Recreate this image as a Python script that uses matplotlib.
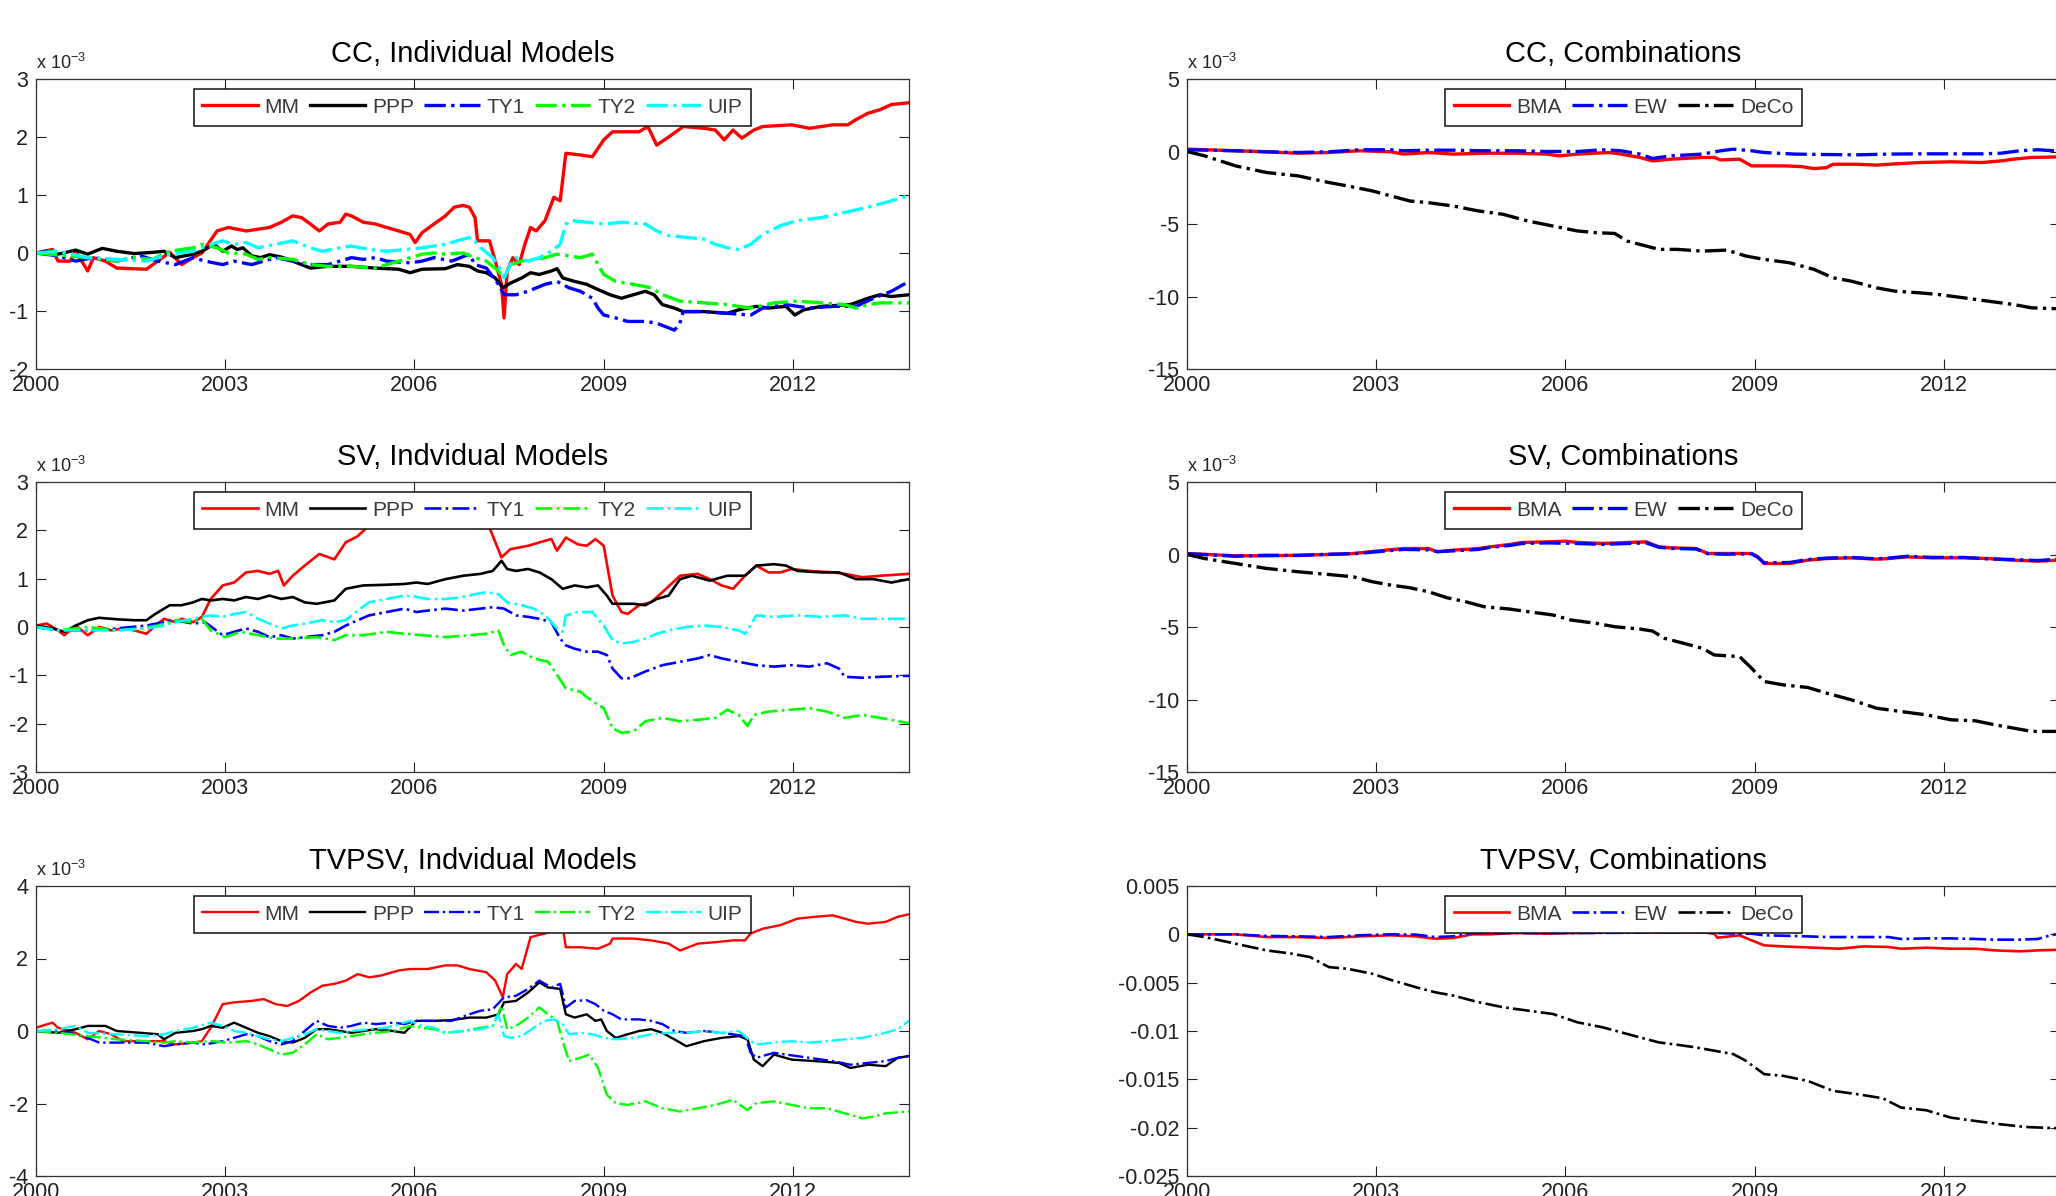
import numpy as np
import matplotlib
matplotlib.use('Agg')
import matplotlib.pyplot as plt
from matplotlib import font_manager
from matplotlib.ticker import FuncFormatter

plt.rcParams['font.family'] = ['Liberation Sans', 'DejaVu Sans']
plt.rcParams['mathtext.default'] = 'regular'

# MATLAB tick labels look condensed; use the narrow face if it is there
try:
    font_manager.findfont('Liberation Sans Narrow', fallback_to_default=False)
    tick_font, tick_size = 'Liberation Sans Narrow', 18
except ValueError:
    tick_font, tick_size = 'Liberation Sans', 15.5

# all series: (year, value in units of 1e-3)
cc_mm = [(2000, 0), (2000.26, 0.06), (2000.35, -0.14), (2000.54, -0.14), (2000.63, 0.03), (2000.82, -0.31),
         (2000.91, -0.08), (2001.1, -0.14), (2001.28, -0.26), (2001.75, -0.28), (2001.93, -0.14), (2002.12, 0.01),
         (2002.31, -0.2), (2002.49, -0.08), (2002.63, 0.0), (2002.87, 0.38), (2003.05, 0.44), (2003.33, 0.38),
         (2003.52, 0.41), (2003.7, 0.44), (2003.89, 0.53), (2004.07, 0.64), (2004.21, 0.61), (2004.35, 0.5),
         (2004.49, 0.38), (2004.63, 0.5), (2004.82, 0.53), (2004.91, 0.67), (2005.0, 0.64), (2005.19, 0.53),
         (2005.38, 0.5), (2005.56, 0.44), (2005.75, 0.38), (2005.93, 0.32), (2006.01, 0.18), (2006.12, 0.35),
         (2006.31, 0.5), (2006.49, 0.64), (2006.63, 0.79), (2006.77, 0.82), (2006.87, 0.79), (2006.96, 0.61),
         (2007.0, 0.21), (2007.19, 0.21), (2007.28, -0.14), (2007.38, -0.54), (2007.42, -1.12), (2007.47, -0.31),
         (2007.56, -0.08), (2007.66, -0.2), (2007.75, 0.15), (2007.84, 0.44), (2007.93, 0.38), (2008.07, 0.56),
         (2008.21, 0.96), (2008.31, 0.9), (2008.4, 1.72), (2008.63, 1.69), (2008.82, 1.66), (2009.0, 1.95),
         (2009.14, 2.09), (2009.56, 2.09), (2009.7, 2.18), (2009.84, 1.86), (2010.03, 2.0), (2010.26, 2.18),
         (2010.59, 2.15), (2010.77, 2.12), (2010.91, 1.95), (2011.05, 2.12), (2011.19, 1.98), (2011.38, 2.12),
         (2011.52, 2.18), (2011.98, 2.21), (2012.26, 2.15), (2012.63, 2.21), (2012.87, 2.21), (2013.0, 2.3),
         (2013.19, 2.41), (2013.38, 2.47), (2013.56, 2.56), (2013.84, 2.59)]
cc_ppp = [(2000, 0), (2000.17, 0.03), (2000.35, -0.02), (2000.63, 0.05), (2000.82, -0.02), (2001.05, 0.08),
          (2001.28, 0.03), (2001.56, -0.01), (2001.84, 0.01), (2002.03, 0.03), (2002.21, -0.08), (2002.49, -0.02),
          (2002.63, 0.03), (2002.82, 0.15), (2002.96, 0.03), (2003.1, 0.12), (2003.19, 0.06), (2003.28, 0.09),
          (2003.42, -0.05), (2003.56, -0.08), (2003.7, -0.03), (2003.89, -0.07), (2004.07, -0.14), (2004.35, -0.26),
          (2004.63, -0.23), (2005.0, -0.23), (2005.38, -0.26), (2005.75, -0.28), (2005.93, -0.34), (2006.12, -0.28),
          (2006.49, -0.27), (2006.68, -0.2), (2006.87, -0.23), (2007.0, -0.31), (2007.14, -0.34), (2007.28, -0.43),
          (2007.4, -0.6), (2007.52, -0.52), (2007.7, -0.43), (2007.84, -0.34), (2007.98, -0.37), (2008.17, -0.31),
          (2008.26, -0.27), (2008.35, -0.43), (2008.54, -0.49), (2008.73, -0.54), (2008.91, -0.63), (2009.1, -0.72),
          (2009.28, -0.78), (2009.47, -0.72), (2009.66, -0.66), (2009.8, -0.72), (2009.93, -0.89), (2010.12, -0.95),
          (2010.26, -1.01), (2010.59, -1.01), (2010.96, -1.04), (2011.14, -0.98), (2011.42, -0.92), (2011.61, -0.95),
          (2011.89, -0.92), (2012.03, -1.07), (2012.17, -0.98), (2012.45, -0.92), (2012.91, -0.89), (2013.19, -0.78),
          (2013.38, -0.72), (2013.56, -0.75), (2013.84, -0.72)]
cc_ty1 = [(2000, 0), (2000.35, -0.05), (2000.63, -0.14), (2000.91, -0.08), (2001.28, -0.14), (2001.66, -0.05),
          (2001.93, -0.14), (2002.21, -0.2), (2002.49, -0.08), (2002.68, -0.14), (2002.96, -0.2), (2003.14, -0.14),
          (2003.42, -0.2), (2003.61, -0.14), (2003.8, -0.08), (2004.07, -0.14), (2004.35, -0.2), (2004.63, -0.2),
          (2004.82, -0.14), (2005.0, -0.08), (2005.19, -0.11), (2005.38, -0.08), (2005.56, -0.14), (2005.93, -0.17),
          (2006.12, -0.14), (2006.31, -0.08), (2006.59, -0.14), (2006.87, -0.02), (2006.96, -0.2), (2007.14, -0.26),
          (2007.33, -0.54), (2007.42, -0.72), (2007.61, -0.72), (2007.8, -0.66), (2008.07, -0.54), (2008.26, -0.49),
          (2008.45, -0.6), (2008.63, -0.66), (2008.82, -0.78), (2008.91, -0.95), (2009.0, -1.07), (2009.19, -1.12),
          (2009.38, -1.18), (2009.66, -1.18), (2009.84, -1.21), (2010.12, -1.33), (2010.2, -1.24), (2010.26, -1.01),
          (2010.59, -1.01), (2010.96, -1.04), (2011.33, -1.07), (2011.52, -0.95), (2011.89, -0.89), (2012.26, -0.95),
          (2012.63, -0.92), (2013.0, -0.92), (2013.28, -0.78), (2013.56, -0.66), (2013.84, -0.49)]
cc_ty2 = [(2000, 0), (2000.3, -0.03), (2000.82, -0.08), (2001.28, -0.14), (2001.56, -0.08), (2001.84, -0.11),
          (2002.12, 0.03), (2002.49, 0.09), (2002.63, 0.15), (2002.87, 0.09), (2003.05, 0.0), (2003.33, -0.02),
          (2003.52, -0.11), (2003.7, -0.08), (2004.07, -0.11), (2004.35, -0.2), (2004.63, -0.23), (2005.0, -0.23),
          (2005.38, -0.26), (2005.56, -0.2), (2005.75, -0.14), (2005.93, -0.08), (2006.12, -0.02), (2006.31, 0.0),
          (2006.49, -0.02), (2006.77, 0.0), (2006.96, -0.08), (2007.14, -0.14), (2007.33, -0.31), (2007.42, -0.43),
          (2007.52, -0.2), (2007.7, -0.14), (2007.89, -0.11), (2008.07, -0.08), (2008.26, -0.02), (2008.45, -0.05),
          (2008.63, -0.08), (2008.82, -0.02), (2008.91, -0.2), (2009.0, -0.37), (2009.19, -0.49), (2009.47, -0.54),
          (2009.75, -0.6), (2009.93, -0.72), (2010.21, -0.83), (2010.59, -0.86), (2010.96, -0.89), (2011.33, -0.95),
          (2011.7, -0.86), (2012.07, -0.83), (2012.45, -0.86), (2012.82, -0.89), (2013.0, -0.95), (2013.19, -0.89),
          (2013.38, -0.86), (2013.84, -0.86)]
cc_uip = [(2000, 0), (2000.35, 0.03), (2000.82, -0.08), (2001.28, -0.11), (2001.75, -0.14), (2002.12, -0.02),
          (2002.49, 0.03), (2002.77, 0.15), (2002.96, 0.21), (2003.14, 0.15), (2003.33, 0.18), (2003.52, 0.09),
          (2003.8, 0.15), (2004.07, 0.21), (2004.35, 0.09), (2004.54, 0.03), (2004.82, 0.09), (2005.0, 0.12),
          (2005.28, 0.06), (2005.56, 0.03), (2005.84, 0.06), (2006.12, 0.09), (2006.49, 0.15), (2006.77, 0.24),
          (2006.91, 0.27), (2007.05, 0.09), (2007.24, -0.08), (2007.38, -0.31), (2007.42, -0.43), (2007.52, -0.2),
          (2007.61, -0.08), (2007.8, -0.14), (2007.98, -0.08), (2008.17, 0.03), (2008.31, 0.15), (2008.4, 0.5),
          (2008.49, 0.56), (2008.73, 0.53), (2009.0, 0.5), (2009.28, 0.53), (2009.66, 0.5), (2009.84, 0.38),
          (2010.03, 0.3), (2010.31, 0.27), (2010.59, 0.24), (2010.77, 0.15), (2010.96, 0.09), (2011.14, 0.06),
          (2011.33, 0.15), (2011.52, 0.32), (2011.8, 0.47), (2012.07, 0.56), (2012.45, 0.61), (2012.82, 0.7),
          (2013.19, 0.79), (2013.56, 0.9), (2013.84, 0.99)]

sv_mm = [(2000, 0.03), (2000.17, 0.07), (2000.35, -0.07), (2000.45, -0.17), (2000.63, 0.03), (2000.82, -0.17),
         (2001.0, 0.0), (2001.19, -0.07), (2001.38, -0.03), (2001.56, -0.07), (2001.75, -0.14), (2001.89, 0.03),
         (2002.03, 0.17), (2002.21, 0.1), (2002.31, 0.17), (2002.49, 0.1), (2002.63, 0.21), (2002.77, 0.58),
         (2002.96, 0.86), (2003.14, 0.92), (2003.33, 1.13), (2003.52, 1.16), (2003.7, 1.1), (2003.84, 1.16),
         (2003.93, 0.86), (2004.07, 1.06), (2004.26, 1.27), (2004.49, 1.51), (2004.73, 1.4), (2004.91, 1.75),
         (2005.1, 1.88), (2005.24, 2.05), (2005.5, 2.25), (2005.9, 2.35), (2006.3, 2.4), (2006.7, 2.3),
         (2006.96, 2.05), (2007.19, 2.05), (2007.38, 1.44), (2007.52, 1.61), (2007.8, 1.68), (2007.98, 1.75),
         (2008.17, 1.82), (2008.26, 1.58), (2008.4, 1.85), (2008.59, 1.71), (2008.73, 1.68), (2008.87, 1.82),
         (2009.0, 1.68), (2009.14, 0.65), (2009.28, 0.31), (2009.38, 0.27), (2009.56, 0.45), (2009.75, 0.51),
         (2009.93, 0.72), (2010.21, 1.06), (2010.49, 1.1), (2010.68, 0.99), (2010.87, 0.86), (2011.05, 0.79),
         (2011.24, 1.06), (2011.42, 1.27), (2011.61, 1.13), (2011.8, 1.13), (2011.98, 1.2), (2012.26, 1.16),
         (2012.63, 1.13), (2012.82, 1.1), (2013.1, 1.03), (2013.38, 1.06), (2013.84, 1.1)]
sv_ppp = [(2000, 0.03), (2000.26, -0.03), (2000.45, -0.1), (2000.63, 0.03), (2000.82, 0.14), (2001.0, 0.19),
          (2001.28, 0.16), (2001.56, 0.14), (2001.75, 0.14), (2001.89, 0.27), (2002.12, 0.45), (2002.31, 0.45),
          (2002.49, 0.51), (2002.63, 0.58), (2002.77, 0.55), (2002.96, 0.58), (2003.14, 0.55), (2003.33, 0.62),
          (2003.52, 0.58), (2003.7, 0.65), (2003.89, 0.58), (2004.07, 0.62), (2004.26, 0.51), (2004.45, 0.48),
          (2004.73, 0.55), (2004.91, 0.79), (2005.19, 0.86), (2005.47, 0.87), (2005.84, 0.89), (2006.03, 0.92),
          (2006.21, 0.89), (2006.49, 0.99), (2006.77, 1.06), (2007.05, 1.1), (2007.24, 1.16), (2007.38, 1.37),
          (2007.47, 1.2), (2007.61, 1.16), (2007.8, 1.2), (2007.98, 1.13), (2008.17, 0.99), (2008.35, 0.79),
          (2008.54, 0.86), (2008.73, 0.82), (2008.91, 0.86), (2009.05, 0.65), (2009.14, 0.48), (2009.47, 0.48),
          (2009.66, 0.45), (2009.84, 0.58), (2010.03, 0.65), (2010.21, 0.99), (2010.4, 1.06), (2010.68, 0.96),
          (2010.96, 1.06), (2011.24, 1.06), (2011.42, 1.27), (2011.7, 1.3), (2011.89, 1.27), (2012.07, 1.16),
          (2012.45, 1.13), (2012.73, 1.13), (2013.0, 0.99), (2013.28, 0.99), (2013.56, 0.92), (2013.84, 0.99)]
sv_ty1 = [(2000, 0), (2000.35, -0.07), (2000.82, -0.07), (2001.28, -0.03), (2001.75, 0.03), (2002.03, 0.1),
          (2002.21, 0.14), (2002.49, 0.07), (2002.68, 0.1), (2002.96, -0.17), (2003.14, -0.1), (2003.33, -0.03),
          (2003.52, -0.1), (2003.7, -0.21), (2003.89, -0.17), (2004.07, -0.24), (2004.26, -0.21), (2004.54, -0.17),
          (2004.73, -0.1), (2004.91, 0.03), (2005.1, 0.14), (2005.28, 0.24), (2005.56, 0.31), (2005.84, 0.38),
          (2006.03, 0.31), (2006.21, 0.34), (2006.49, 0.38), (2006.77, 0.34), (2007.05, 0.38), (2007.24, 0.41),
          (2007.42, 0.38), (2007.61, 0.24), (2007.8, 0.21), (2007.98, 0.17), (2008.17, 0.1), (2008.31, -0.24),
          (2008.4, -0.38), (2008.54, -0.45), (2008.73, -0.51), (2008.91, -0.51), (2009.05, -0.58), (2009.14, -0.86),
          (2009.28, -1.06), (2009.42, -1.06), (2009.66, -0.92), (2009.93, -0.79), (2010.21, -0.72), (2010.49, -0.65),
          (2010.68, -0.58), (2010.87, -0.65), (2011.14, -0.72), (2011.42, -0.79), (2011.7, -0.82), (2011.98, -0.79),
          (2012.26, -0.82), (2012.54, -0.75), (2012.73, -0.86), (2012.82, -1.03), (2013.1, -1.05), (2013.38, -1.03),
          (2013.84, -1.01)]
sv_ty2 = [(2000, 0), (2000.35, -0.07), (2000.82, 0.0), (2001.28, -0.07), (2001.66, -0.03), (2001.93, 0.03),
          (2002.21, 0.14), (2002.49, 0.1), (2002.63, 0.17), (2002.77, -0.07), (2003.0, -0.21), (2003.24, -0.1),
          (2003.52, -0.17), (2003.8, -0.24), (2004.07, -0.24), (2004.45, -0.21), (2004.73, -0.27), (2004.91, -0.17),
          (2005.19, -0.17), (2005.56, -0.1), (2005.84, -0.14), (2006.12, -0.17), (2006.49, -0.21), (2006.87, -0.17),
          (2007.14, -0.14), (2007.33, -0.07), (2007.42, -0.38), (2007.52, -0.58), (2007.7, -0.51), (2007.89, -0.65),
          (2008.12, -0.72), (2008.26, -0.99), (2008.4, -1.27), (2008.63, -1.34), (2008.82, -1.54), (2009.0, -1.68),
          (2009.14, -2.09), (2009.28, -2.19), (2009.47, -2.16), (2009.66, -1.95), (2009.93, -1.88), (2010.21, -1.95),
          (2010.49, -1.92), (2010.77, -1.88), (2010.96, -1.71), (2011.14, -1.82), (2011.28, -2.05), (2011.38, -1.82),
          (2011.61, -1.75), (2011.98, -1.71), (2012.26, -1.68), (2012.54, -1.75), (2012.82, -1.88), (2013.1, -1.82),
          (2013.38, -1.88), (2013.84, -1.99)]
sv_uip = [(2000, 0), (2000.35, -0.07), (2000.82, -0.07), (2001.28, -0.07), (2001.75, -0.03), (2002.03, 0.03),
          (2002.21, 0.1), (2002.49, 0.17), (2002.63, 0.21), (2002.77, 0.24), (2002.96, 0.21), (2003.14, 0.27),
          (2003.33, 0.31), (2003.52, 0.17), (2003.7, 0.07), (2003.89, -0.03), (2004.07, 0.03), (2004.26, 0.07),
          (2004.54, 0.14), (2004.73, 0.1), (2004.91, 0.14), (2005.1, 0.34), (2005.28, 0.51), (2005.56, 0.58),
          (2005.84, 0.65), (2006.03, 0.62), (2006.21, 0.58), (2006.49, 0.58), (2006.77, 0.62), (2006.96, 0.68),
          (2007.14, 0.72), (2007.33, 0.68), (2007.47, 0.51), (2007.7, 0.45), (2007.89, 0.38), (2008.07, 0.24),
          (2008.26, -0.03), (2008.35, -0.1), (2008.4, 0.24), (2008.59, 0.31), (2008.82, 0.31), (2009.0, 0.03),
          (2009.14, -0.27), (2009.28, -0.34), (2009.47, -0.31), (2009.66, -0.24), (2009.84, -0.14), (2010.03, -0.07),
          (2010.31, 0.0), (2010.59, 0.03), (2010.87, 0.0), (2011.14, -0.07), (2011.24, -0.14), (2011.42, 0.24),
          (2011.7, 0.21), (2012.07, 0.24), (2012.45, 0.21), (2012.82, 0.24), (2013.1, 0.17), (2013.38, 0.17),
          (2013.84, 0.17)]

tv_mm = [(2000, 0.09), (2000.26, 0.23), (2000.35, 0.09), (2000.63, -0.05), (2000.82, -0.23), (2001.0, 0.0),
         (2001.19, -0.09), (2001.38, -0.28), (2001.75, -0.28), (2002.03, -0.28), (2002.21, -0.37), (2002.49, -0.32),
         (2002.63, -0.28), (2002.77, 0.09), (2002.96, 0.74), (2003.14, 0.79), (2003.42, 0.83), (2003.61, 0.88),
         (2003.8, 0.74), (2003.98, 0.69), (2004.17, 0.83), (2004.35, 1.06), (2004.54, 1.25), (2004.73, 1.3),
         (2004.91, 1.39), (2005.1, 1.57), (2005.28, 1.48), (2005.47, 1.53), (2005.75, 1.67), (2005.93, 1.71),
         (2006.21, 1.71), (2006.49, 1.81), (2006.68, 1.81), (2006.87, 1.71), (2007.14, 1.62), (2007.28, 1.39),
         (2007.4, 0.93), (2007.47, 1.57), (2007.61, 1.85), (2007.7, 1.71), (2007.84, 2.59), (2008.07, 2.69),
         (2008.21, 2.78), (2008.35, 2.87), (2008.4, 2.31), (2008.63, 2.31), (2008.91, 2.27), (2009.1, 2.41),
         (2009.14, 2.55), (2009.47, 2.55), (2009.75, 2.5), (2010.03, 2.41), (2010.21, 2.22), (2010.49, 2.41),
         (2010.77, 2.45), (2011.05, 2.5), (2011.24, 2.5), (2011.33, 2.69), (2011.52, 2.82), (2011.8, 2.92),
         (2012.07, 3.1), (2012.35, 3.15), (2012.63, 3.19), (2012.82, 3.1), (2013.0, 3.01), (2013.19, 2.96),
         (2013.47, 3.01), (2013.66, 3.15), (2013.84, 3.22)]
tv_ppp = [(2000, 0.0), (2000.35, -0.05), (2000.63, 0.05), (2000.82, 0.14), (2001.1, 0.14), (2001.28, 0.0),
          (2001.66, -0.05), (2001.93, -0.09), (2002.03, -0.23), (2002.21, -0.05), (2002.49, 0.0), (2002.63, 0.05),
          (2002.77, 0.14), (2002.96, 0.09), (2003.14, 0.23), (2003.33, 0.09), (2003.52, -0.05), (2003.7, -0.14),
          (2003.89, -0.28), (2004.07, -0.32), (2004.26, -0.19), (2004.45, 0.05), (2004.63, 0.05), (2004.82, 0.0),
          (2005.0, -0.05), (2005.38, 0.05), (2005.66, 0.0), (2005.84, -0.05), (2006.03, 0.28), (2006.31, 0.28),
          (2006.59, 0.3), (2006.87, 0.37), (2007.14, 0.37), (2007.33, 0.46), (2007.42, 0.79), (2007.61, 0.83),
          (2007.8, 1.06), (2007.98, 1.34), (2008.12, 1.2), (2008.31, 1.16), (2008.4, 0.46), (2008.54, 0.37),
          (2008.73, 0.46), (2008.87, 0.28), (2008.96, 0.32), (2009.05, 0.0), (2009.19, -0.19), (2009.38, -0.09),
          (2009.56, 0.0), (2009.75, 0.05), (2009.93, -0.05), (2010.12, -0.23), (2010.31, -0.42), (2010.59, -0.28),
          (2010.87, -0.19), (2011.14, -0.14), (2011.28, -0.23), (2011.38, -0.79), (2011.52, -0.97), (2011.7, -0.65),
          (2011.98, -0.79), (2012.35, -0.83), (2012.73, -0.88), (2012.91, -1.02), (2013.19, -0.93), (2013.47, -0.97),
          (2013.66, -0.74), (2013.84, -0.69)]
tv_ty1 = [(2000, 0.0), (2000.35, 0.0), (2000.63, -0.09), (2000.82, -0.19), (2001.0, -0.32), (2001.28, -0.32),
          (2001.75, -0.32), (2002.03, -0.42), (2002.21, -0.37), (2002.49, -0.32), (2002.68, -0.37), (2002.96, -0.28),
          (2003.14, -0.19), (2003.33, -0.09), (2003.52, -0.14), (2003.7, -0.28), (2003.89, -0.37), (2004.07, -0.28),
          (2004.26, 0.0), (2004.45, 0.28), (2004.63, 0.14), (2004.82, 0.09), (2005.0, 0.14), (2005.19, 0.23),
          (2005.38, 0.19), (2005.66, 0.23), (2005.84, 0.19), (2006.03, 0.28), (2006.31, 0.28), (2006.59, 0.28),
          (2006.87, 0.46), (2007.05, 0.56), (2007.24, 0.6), (2007.42, 0.93), (2007.61, 0.97), (2007.8, 1.16),
          (2007.98, 1.39), (2008.17, 1.2), (2008.31, 1.3), (2008.4, 0.65), (2008.54, 0.83), (2008.73, 0.85),
          (2008.87, 0.74), (2009.0, 0.56), (2009.14, 0.46), (2009.28, 0.32), (2009.56, 0.32), (2009.75, 0.28),
          (2009.93, 0.19), (2010.12, 0.0), (2010.31, -0.05), (2010.59, 0.0), (2010.87, -0.05), (2011.24, -0.14),
          (2011.33, -0.6), (2011.42, -0.74), (2011.7, -0.6), (2011.89, -0.65), (2012.26, -0.74), (2012.63, -0.83),
          (2012.91, -0.93), (2013.19, -0.88), (2013.47, -0.83), (2013.66, -0.74), (2013.84, -0.69)]
tv_ty2 = [(2000, 0.0), (2000.35, -0.05), (2000.82, -0.14), (2001.28, -0.23), (2001.75, -0.28), (2002.03, -0.32),
          (2002.21, -0.28), (2002.49, -0.32), (2002.77, -0.28), (2003.05, -0.32), (2003.33, -0.28), (2003.52, -0.37),
          (2003.7, -0.51), (2003.89, -0.65), (2004.07, -0.6), (2004.26, -0.37), (2004.45, -0.09), (2004.63, -0.23),
          (2004.82, -0.19), (2005.0, -0.14), (2005.19, -0.09), (2005.38, -0.05), (2005.66, 0.0), (2005.93, 0.14),
          (2006.12, 0.09), (2006.31, 0.05), (2006.49, -0.05), (2006.77, 0.0), (2007.05, 0.09), (2007.24, 0.14),
          (2007.38, 0.69), (2007.47, 0.05), (2007.61, 0.14), (2007.8, 0.37), (2007.98, 0.65), (2008.12, 0.46),
          (2008.26, 0.28), (2008.35, -0.28), (2008.45, -0.83), (2008.63, -0.74), (2008.77, -0.65), (2008.91, -1.02),
          (2009.05, -1.76), (2009.19, -1.99), (2009.38, -2.04), (2009.66, -1.94), (2009.93, -2.13), (2010.21, -2.22),
          (2010.49, -2.13), (2010.77, -2.04), (2011.05, -1.9), (2011.28, -2.18), (2011.42, -1.99), (2011.7, -1.94),
          (2011.98, -2.04), (2012.26, -2.13), (2012.54, -2.13), (2012.82, -2.27), (2013.1, -2.41), (2013.28, -2.36),
          (2013.47, -2.27), (2013.84, -2.22)]
tv_uip = [(2000, 0.0), (2000.35, 0.05), (2000.63, 0.14), (2000.82, -0.05), (2001.28, -0.09), (2001.75, -0.14),
          (2002.03, -0.09), (2002.21, 0.0), (2002.49, 0.09), (2002.77, 0.23), (2002.96, 0.14), (2003.14, 0.0),
          (2003.33, -0.05), (2003.52, -0.14), (2003.7, -0.23), (2003.89, -0.28), (2004.07, -0.19), (2004.26, -0.09),
          (2004.45, 0.05), (2004.63, 0.0), (2004.82, -0.05), (2005.0, 0.0), (2005.28, 0.05), (2005.56, 0.09),
          (2005.93, 0.28), (2006.12, 0.14), (2006.31, 0.09), (2006.49, -0.05), (2006.77, 0.0), (2007.05, 0.05),
          (2007.24, 0.14), (2007.33, 0.46), (2007.42, -0.14), (2007.52, -0.19), (2007.7, -0.14), (2007.89, 0.09),
          (2008.07, 0.28), (2008.21, 0.32), (2008.35, 0.19), (2008.45, -0.09), (2008.63, -0.05), (2008.82, -0.09),
          (2009.0, -0.19), (2009.19, -0.23), (2009.47, -0.19), (2009.75, -0.09), (2010.03, -0.05), (2010.31, -0.05),
          (2010.59, 0.0), (2010.87, -0.05), (2011.14, 0.0), (2011.33, -0.28), (2011.42, -0.37), (2011.7, -0.32),
          (2011.98, -0.28), (2012.26, -0.32), (2012.54, -0.28), (2012.82, -0.23), (2013.1, -0.19), (2013.38, -0.09),
          (2013.66, 0.05), (2013.84, 0.28)]

cc_bma = [(2000, 0.16), (2000.28, 0.12), (2000.77, 0.05), (2001.26, -0.02), (2001.76, -0.12), (2002.25, -0.07),
          (2002.74, 0.05), (2003.23, -0.02), (2003.43, -0.18), (2003.83, -0.07), (2004.22, -0.18), (2004.71, -0.12),
          (2005.21, -0.12), (2005.7, -0.18), (2005.9, -0.3), (2006.19, -0.18), (2006.69, -0.07), (2006.88, -0.18),
          (2007.18, -0.41), (2007.38, -0.65), (2007.67, -0.53), (2008.17, -0.41), (2008.36, -0.41), (2008.46, -0.58),
          (2008.76, -0.53), (2008.95, -0.99), (2009.15, -0.99), (2009.45, -0.99), (2009.74, -1.04), (2009.94, -1.18),
          (2010.14, -1.11), (2010.24, -0.88), (2010.63, -0.88), (2010.93, -0.94), (2011.12, -0.88), (2011.62, -0.76),
          (2012.11, -0.71), (2012.6, -0.76), (2012.9, -0.65), (2013.1, -0.53), (2013.39, -0.41), (2013.84, -0.37)]
cc_ew = [(2000, 0.12), (2000.77, 0.05), (2001.26, -0.02), (2001.76, -0.07), (2002.25, -0.02), (2002.74, 0.12),
         (2003.23, 0.12), (2003.43, 0.05), (2003.83, 0.09), (2004.22, 0.09), (2004.71, 0.05), (2005.21, 0.05),
         (2005.7, 0.0), (2006.19, 0.0), (2006.59, 0.12), (2006.88, 0.05), (2007.18, -0.18), (2007.38, -0.48),
         (2007.67, -0.3), (2008.17, -0.18), (2008.46, 0.05), (2008.66, 0.16), (2008.95, 0.05), (2009.15, -0.07),
         (2009.64, -0.18), (2010.14, -0.21), (2010.63, -0.23), (2011.12, -0.18), (2011.62, -0.16), (2012.11, -0.16),
         (2012.6, -0.16), (2012.9, -0.12), (2013.2, 0.05), (2013.49, 0.12), (2013.84, 0.02)]
cc_deco = [(2000, 0.0), (2000.28, -0.3), (2000.77, -0.99), (2001.26, -1.45), (2001.76, -1.68), (2002.25, -2.14),
           (2002.54, -2.37), (2002.94, -2.72), (2003.23, -3.06), (2003.53, -3.41), (2003.83, -3.53), (2004.22, -3.76),
           (2004.62, -4.1), (2005.01, -4.33), (2005.4, -4.79), (2005.8, -5.14), (2006.19, -5.48), (2006.49, -5.6),
           (2006.78, -5.65), (2006.98, -6.18), (2007.28, -6.52), (2007.48, -6.75), (2007.77, -6.75), (2008.17, -6.87),
           (2008.56, -6.8), (2008.86, -7.21), (2009.15, -7.44), (2009.55, -7.67), (2009.94, -8.13), (2010.24, -8.71),
           (2010.53, -8.94), (2010.93, -9.4), (2011.22, -9.63), (2011.62, -9.75), (2011.91, -9.86), (2012.31, -10.09),
           (2012.7, -10.32), (2013.1, -10.55), (2013.39, -10.78), (2013.84, -10.85)]

sv_bma = [(2000, 0.07), (2000.77, -0.09), (2001.26, -0.09), (2001.76, -0.05), (2002.25, 0.0), (2002.64, 0.07),
          (2003.04, 0.25), (2003.43, 0.41), (2003.83, 0.41), (2003.97, 0.18), (2004.22, 0.3), (2004.62, 0.41),
          (2004.81, 0.53), (2005.11, 0.69), (2005.31, 0.83), (2005.7, 0.87), (2006.0, 0.92), (2006.19, 0.83),
          (2006.59, 0.76), (2006.98, 0.83), (2007.28, 0.87), (2007.48, 0.53), (2007.67, 0.46), (2008.07, 0.41),
          (2008.26, 0.07), (2008.56, 0.07), (2008.95, 0.07), (2009.05, -0.16), (2009.15, -0.62), (2009.55, -0.62),
          (2009.84, -0.39), (2010.14, -0.28), (2010.53, -0.23), (2010.93, -0.32), (2011.12, -0.28), (2011.42, -0.16),
          (2011.81, -0.23), (2012.31, -0.23), (2012.7, -0.28), (2013.1, -0.39), (2013.49, -0.46), (2013.84, -0.39)]
sv_ew = [(2000, 0.05), (2000.77, -0.12), (2001.26, -0.05), (2001.76, -0.07), (2002.25, 0.02), (2002.64, 0.05),
         (2003.04, 0.2), (2003.43, 0.35), (2003.83, 0.32), (2003.97, 0.2), (2004.22, 0.25), (2004.62, 0.35),
         (2004.81, 0.5), (2005.11, 0.62), (2005.31, 0.76), (2005.7, 0.8), (2006.0, 0.78), (2006.19, 0.76),
         (2006.59, 0.7), (2006.98, 0.76), (2007.28, 0.8), (2007.48, 0.5), (2007.67, 0.42), (2008.07, 0.38),
         (2008.26, 0.05), (2008.56, 0.02), (2008.95, 0.05), (2009.05, -0.2), (2009.15, -0.58), (2009.55, -0.55),
         (2009.84, -0.35), (2010.14, -0.25), (2010.53, -0.2), (2010.93, -0.3), (2011.12, -0.25), (2011.42, -0.12),
         (2011.81, -0.2), (2012.31, -0.2), (2012.7, -0.3), (2013.1, -0.35), (2013.49, -0.42), (2013.84, -0.3)]
sv_deco = [(2000, 0.0), (2000.28, -0.28), (2000.77, -0.62), (2001.26, -0.96), (2001.76, -1.19), (2002.25, -1.38),
           (2002.64, -1.54), (2002.94, -1.88), (2003.23, -2.11), (2003.53, -2.29), (2003.83, -2.57), (2004.12, -2.98),
           (2004.42, -3.26), (2004.71, -3.6), (2005.11, -3.76), (2005.4, -3.94), (2005.8, -4.17), (2006.09, -4.52),
           (2006.49, -4.75), (2006.78, -4.98), (2007.18, -5.14), (2007.38, -5.28), (2007.57, -5.78), (2007.87, -6.12),
           (2008.17, -6.47), (2008.36, -6.93), (2008.76, -7.04), (2008.95, -7.84), (2009.15, -8.76), (2009.45, -8.99),
           (2009.84, -9.17), (2010.14, -9.56), (2010.53, -10.02), (2010.93, -10.6), (2011.32, -10.83), (2011.72, -11.06),
           (2012.11, -11.4), (2012.5, -11.47), (2012.8, -11.74), (2013.1, -11.97), (2013.39, -12.2), (2013.84, -12.2)]

tv_bma = [(2000, 0.0), (2000.77, 0.0), (2001.26, -0.28), (2001.76, -0.28), (2002.25, -0.38), (2002.74, -0.21),
          (2003.23, -0.1), (2003.63, -0.21), (2003.93, -0.45), (2004.22, -0.38), (2004.52, 0.0), (2004.81, 0.0),
          (2005.21, 0.14), (2005.7, 0.07), (2006.19, 0.14), (2006.69, 0.17), (2007.18, 0.21), (2007.57, 0.17),
          (2008.17, 0.21), (2008.36, 0.07), (2008.41, -0.35), (2008.76, -0.1), (2008.95, -0.62), (2009.15, -1.14),
          (2009.45, -1.25), (2009.94, -1.38), (2010.34, -1.49), (2010.73, -1.25), (2011.12, -1.31), (2011.32, -1.49),
          (2011.72, -1.38), (2012.11, -1.49), (2012.5, -1.49), (2012.8, -1.66), (2013.2, -1.76), (2013.49, -1.66),
          (2013.84, -1.59)]
tv_ew = [(2000, 0.0), (2000.77, 0.0), (2001.26, -0.17), (2001.76, -0.21), (2002.25, -0.28), (2002.74, -0.1),
         (2003.23, 0.0), (2003.63, -0.03), (2003.93, -0.28), (2004.22, -0.21), (2004.52, 0.14), (2005.21, 0.14),
         (2006.19, 0.14), (2007.18, 0.17), (2008.17, 0.21), (2008.36, 0.14), (2008.76, 0.07), (2008.95, 0.07),
         (2009.15, -0.1), (2009.64, -0.17), (2010.14, -0.28), (2010.73, -0.28), (2011.12, -0.28), (2011.32, -0.48),
         (2011.72, -0.42), (2012.11, -0.42), (2012.5, -0.48), (2012.8, -0.55), (2013.2, -0.55), (2013.49, -0.48),
         (2013.69, -0.1), (2013.84, 0.07)]
tv_deco = [(2000, 0.0), (2000.28, -0.28), (2000.77, -0.97), (2001.26, -1.66), (2001.66, -2.0), (2001.95, -2.35),
           (2002.25, -3.39), (2002.54, -3.56), (2002.94, -4.08), (2003.23, -4.71), (2003.63, -5.47), (2003.93, -5.99),
           (2004.22, -6.33), (2004.62, -7.02), (2005.01, -7.54), (2005.4, -7.89), (2005.8, -8.24), (2006.19, -9.1),
           (2006.59, -9.62), (2006.98, -10.31), (2007.18, -10.66), (2007.48, -11.18), (2007.77, -11.42), (2008.07, -11.7),
           (2008.36, -12.04), (2008.66, -12.39), (2008.86, -13.08), (2009.15, -14.46), (2009.45, -14.64), (2009.84, -15.16),
           (2010.24, -16.19), (2010.63, -16.54), (2011.03, -16.96), (2011.32, -17.92), (2011.72, -18.2), (2012.11, -18.96),
           (2012.5, -19.31), (2012.9, -19.65), (2013.29, -19.93), (2013.84, -20.07)]

ind_names = ['MM', 'PPP', 'TY1', 'TY2', 'UIP']
comb_names = ['BMA', 'EW', 'DeCo']
ind_colors = ['#ff0000', '#000000', '#0000ff', '#00ff00', '#00ffff']
ind_ls = ['-', '-', '-.', '-.', '-.']
comb_colors = ['#ff0000', '#0000ff', '#000000']
comb_ls = ['-', '-.', '-.']
year_ticks = [2000, 2003, 2006, 2009, 2012]

panels = [
    # title, series, names, colors, styles, ylim, yticks (1e-3), scaled, position, lw
    ('CC, Individual Models', [cc_mm, cc_ppp, cc_ty1, cc_ty2, cc_uip], ind_names, ind_colors, ind_ls,
     (-2, 3), [-2, -1, 0, 1, 2, 3], True, (0, 0), 2.4),
    ('CC, Combinations', [cc_bma, cc_ew, cc_deco], comb_names, comb_colors, comb_ls,
     (-15, 5), [-15, -10, -5, 0, 5], True, (1, 0), 2.4),
    ('SV, Indvidual Models', [sv_mm, sv_ppp, sv_ty1, sv_ty2, sv_uip], ind_names, ind_colors, ind_ls,
     (-3, 3), [-3, -2, -1, 0, 1, 2, 3], True, (0, 1), 1.9),
    ('SV, Combinations', [sv_bma, sv_ew, sv_deco], comb_names, comb_colors, comb_ls,
     (-15, 5), [-15, -10, -5, 0, 5], True, (1, 1), 2.4),
    ('TVPSV, Indvidual Models', [tv_mm, tv_ppp, tv_ty1, tv_ty2, tv_uip], ind_names, ind_colors, ind_ls,
     (-4, 4), [-4, -2, 0, 2, 4], True, (0, 2), 1.7),
    ('TVPSV, Combinations', [tv_bma, tv_ew, tv_deco], comb_names, comb_colors, comb_ls,
     (-25, 5), [-25, -20, -15, -10, -5, 0, 5], False, (1, 2), 1.9),
]

W, H = 2056, 1196
fig = plt.figure(figsize=(W / 100, H / 100), dpi=100)

col_x = [36 / W, 1187 / W]
ax_w = 873 / W
row_top = [79, 482, 886]
ax_h = 290 / H

for title, series, names, colors, styles, ylim, yticks, scaled, (c, r), lw in panels:
    ax = fig.add_axes([col_x[c], 1 - (row_top[r] + 290) / H, ax_w, ax_h])
    for pairs, name, col, ls in zip(series, names, colors, styles):
        a = np.array(pairs, dtype=float)
        ax.plot(a[:, 0], a[:, 1] * 1e-3, color=col, linestyle=ls, lw=lw, label=name)
    ax.set_xlim(2000, 2013.84)
    ax.set_ylim(ylim[0] * 1e-3, ylim[1] * 1e-3)
    ax.set_xticks(year_ticks)
    ax.set_xticklabels([str(y) for y in year_ticks])
    ax.set_yticks([t * 1e-3 for t in yticks])
    if scaled:
        ax.yaxis.set_major_formatter(FuncFormatter(lambda v, p: '%g' % round(v * 1e3, 6)))
        ax.text(0.0, 1.034, 'x 10$^{-3}$', transform=ax.transAxes, fontsize=13,
                ha='left', va='baseline', color='#222222')
    else:
        ax.yaxis.set_major_formatter(FuncFormatter(lambda v, p: '%g' % round(v, 6)))
    ax.tick_params(direction='in', top=True, right=True, length=7, width=0.8,
                   colors='#222222')
    ax.tick_params(axis='x', pad=4)
    ax.tick_params(axis='y', pad=5.5)
    for lab in ax.get_xticklabels() + ax.get_yticklabels():
        lab.set_fontfamily([tick_font, 'Liberation Sans'])
        lab.set_fontsize(tick_size)
    for s in ax.spines.values():
        s.set_linewidth(0.9)
        s.set_color('#333333')
    ax.set_title(title, fontsize=21, pad=12)
    leg = ax.legend(loc='upper center', bbox_to_anchor=(0.5, 1 - 10 / 290), ncol=len(names),
                    fontsize=15, handlelength=2.65, handletextpad=0.33, columnspacing=0.5,
                    borderpad=0.42, borderaxespad=0, fancybox=False, framealpha=1)
    leg.get_frame().set_edgecolor('#111111')
    leg.get_frame().set_linewidth(1.1)
    for t in leg.get_texts():
        t.set_color('#3a3a3a')

fig.savefig('out.png', dpi=100)
